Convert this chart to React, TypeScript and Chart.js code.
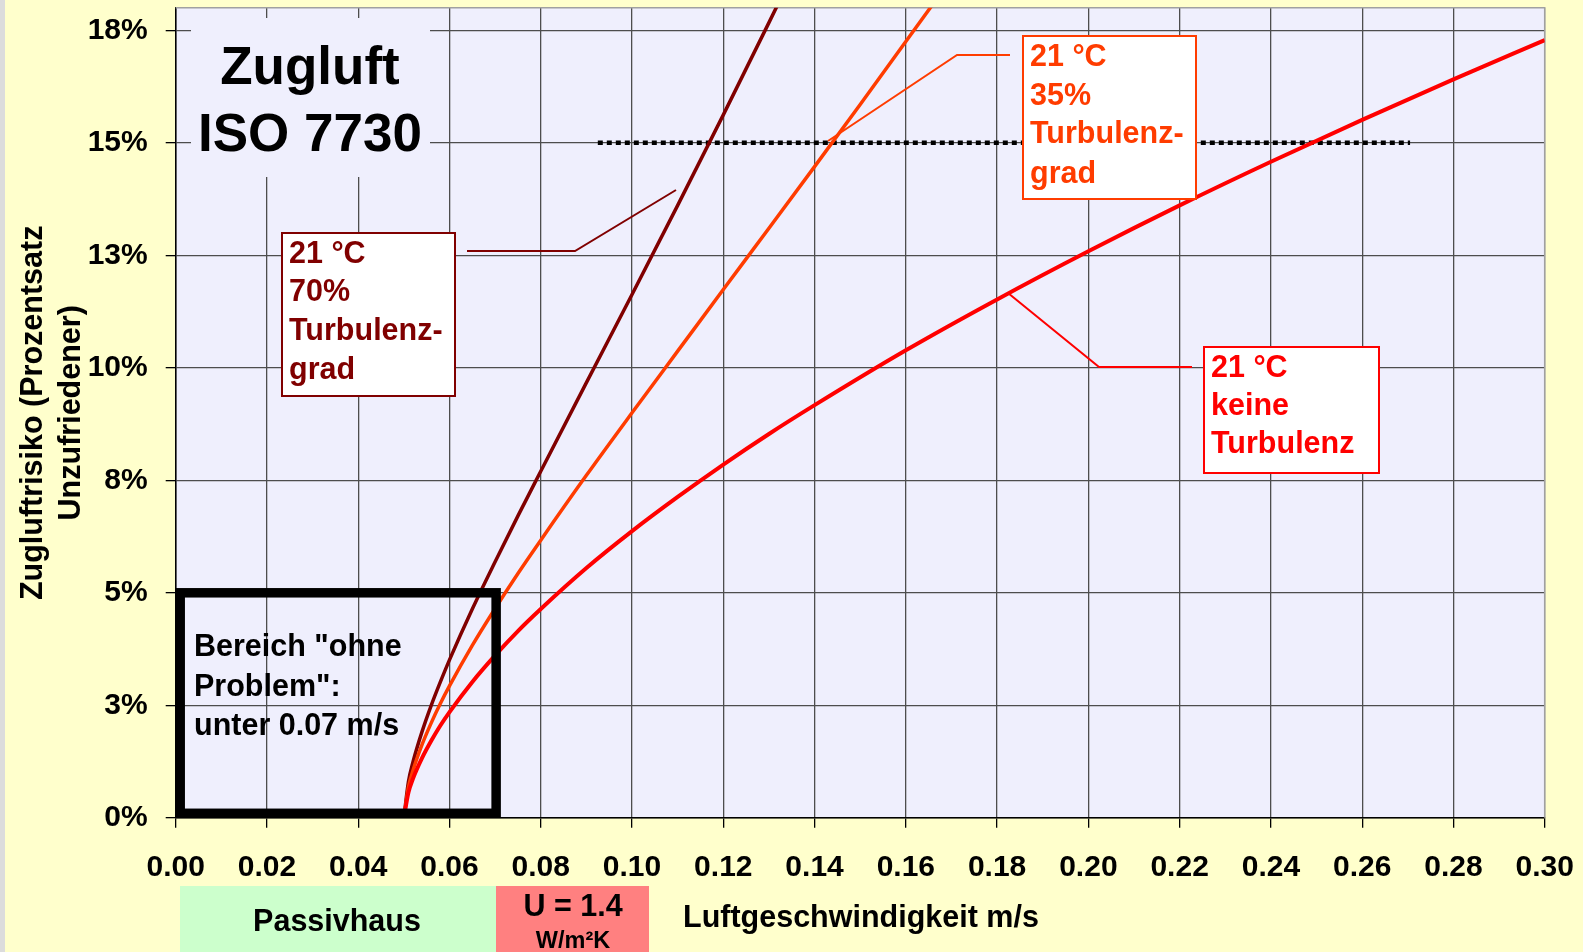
import React, { useEffect, useRef } from 'react';
import { Chart, registerables } from 'chart.js';

Chart.register(...registerables);

// ---- Data ----
const speedNoTurb = [0.05, 0.051, 0.052, 0.054, 0.056, 0.058, 0.06, 0.065, 0.07, 0.075, 0.08, 0.09, 0.10, 0.11, 0.12, 0.13, 0.14, 0.16, 0.18, 0.20, 0.22, 0.24, 0.26, 0.28, 0.30];
const riskNoTurb = [0, 0.56, 0.87, 1.33, 1.71, 2.05, 2.35, 3.02, 3.61, 4.15, 4.64, 5.55, 6.37, 7.13, 7.85, 8.53, 9.17, 10.39, 11.52, 12.59, 13.61, 14.58, 15.51, 16.41, 17.28];

const speedTurb35 = [0.05, 0.051, 0.052, 0.054, 0.056, 0.058, 0.06, 0.065, 0.07, 0.075, 0.08, 0.09, 0.10, 0.11, 0.12, 0.13, 0.14, 0.15, 0.16, 0.17];
const riskTurb35 = [0, 0.68, 1.05, 1.63, 2.11, 2.54, 2.93, 3.83, 4.65, 5.43, 6.17, 7.61, 9.0, 10.37, 11.74, 13.1, 14.47, 15.85, 17.25, 18.65];

const speedTurb70 = [0.05, 0.051, 0.052, 0.054, 0.056, 0.058, 0.06, 0.065, 0.07, 0.075, 0.08, 0.09, 0.10, 0.11, 0.12, 0.13, 0.135];
const riskTurb70 = [0, 0.8, 1.24, 1.92, 2.5, 3.02, 3.51, 4.64, 5.69, 6.71, 7.7, 9.67, 11.63, 13.61, 15.62, 17.67, 18.71];

const limitSpeed = [0.0925, 0.2705];
const limitRisk = [15, 15];

const xTickValues = [0, 0.02, 0.04, 0.06, 0.08, 0.1, 0.12, 0.14, 0.16, 0.18, 0.2, 0.22, 0.24, 0.26, 0.28, 0.3];
const xTickLabels = ['0.00', '0.02', '0.04', '0.06', '0.08', '0.10', '0.12', '0.14', '0.16', '0.18', '0.20', '0.22', '0.24', '0.26', '0.28', '0.30'];
const yTickValues = [0, 2.5, 5, 7.5, 10, 12.5, 15, 17.5];
const yTickLabels = ['0%', '3%', '5%', '8%', '10%', '13%', '15%', '18%'];

const safeZoneSpeed = 0.07;
const safeZoneRisk = 5;

const yTitle = ['Zugluftrisiko (Prozentsatz', 'Unzufriedener)'];
const xTitle = 'Luftgeschwindigkeit m/s';
const chartTitle = ['Zugluft', 'ISO 7730'];

const FONT = '"Liberation Sans", Arial, sans-serif';
const DARKRED = '#800000';
const ORANGE = '#FF3C00';
const RED = '#FF0000';
const TXT = 30.5;

const toPts = (xs: number[], ys: number[]) => xs.map((x, i) => ({ x, y: ys[i] }));

type Callout = { color: string; box: [number, number, number, number]; lines: string[]; textX: number; textY: number[]; leader: [number, number][] };

const callouts: Callout[] = [
  { color: DARKRED, box: [282, 233, 173, 163], lines: ['21 °C', '70%', 'Turbulenz-', 'grad'], textX: 289, textY: [254.5, 293, 332, 370.5], leader: [[467, 251], [575, 251], [676, 190]] },
  { color: ORANGE, box: [1023, 36, 173, 163], lines: ['21 °C', '35%', 'Turbulenz-', 'grad'], textX: 1030, textY: [57.5, 97, 135, 174.5], leader: [[1010, 55], [957, 55], [828, 141]] },
  { color: RED, box: [1204, 347, 175, 126], lines: ['21 °C', 'keine', 'Turbulenz'], textX: 1211, textY: [368.5, 407, 445], leader: [[1192, 367], [1099, 367], [1008, 293]] },
];

const decorPlugin = {
  id: 'decor',
  beforeDraw(chart: any) {
    const { ctx, chartArea: a, width, height } = chart;
    ctx.save();
    ctx.fillStyle = '#FFFFCC';
    ctx.fillRect(0, 0, width, height);
    ctx.fillStyle = '#DCDCDC';
    ctx.fillRect(0, 0, 5, height);
    ctx.fillStyle = '#EFEFFD';
    ctx.fillRect(a.left, a.top, a.right - a.left, a.bottom - a.top);
    ctx.restore();
  },
  beforeDatasetsDraw(chart: any) {
    const { ctx, chartArea: a } = chart;
    ctx.save();
    ctx.strokeStyle = '#A0A0A0';
    ctx.lineWidth = 1.5;
    ctx.beginPath();
    ctx.moveTo(a.left, a.top);
    ctx.lineTo(a.right, a.top);
    ctx.lineTo(a.right, a.bottom);
    ctx.stroke();
    ctx.fillStyle = '#EFEFFD';
    ctx.fillRect(191, 18, 239, 159);
    ctx.fillStyle = '#000';
    ctx.font = `bold 53px ${FONT}`;
    ctx.textAlign = 'center';
    ctx.textBaseline = 'alphabetic';
    ctx.fillText(chartTitle[0], 310, 84);
    ctx.fillText(chartTitle[1], 310, 151);
    ctx.restore();
  },
  afterDatasetsDraw(chart: any) {
    const { ctx, scales } = chart;
    const X = (v: number) => scales.x.getPixelForValue(v);
    const Y = (v: number) => scales.y.getPixelForValue(v);
    ctx.save();
    ctx.strokeStyle = '#000';
    ctx.lineWidth = 9.5;
    const l = X(0) + 4.5, r = X(safeZoneSpeed) + 1, t = Y(safeZoneRisk), b = Y(0) - 4.5;
    ctx.strokeRect(l, t, r - l, b - t);
    ctx.fillStyle = '#000';
    ctx.font = `bold ${TXT}px ${FONT}`;
    ctx.textAlign = 'left';
    ctx.textBaseline = 'middle';
    ctx.fillText('Bereich "ohne', 194, 648);
    ctx.fillText('Problem":', 194, 687.5);
    ctx.fillText('unter 0.07 m/s', 194, 727);

    for (const c of callouts) {
      ctx.strokeStyle = c.color;
      ctx.lineWidth = 2;
      ctx.beginPath();
      c.leader.forEach(([px, py], i) => (i === 0 ? ctx.moveTo(px, py) : ctx.lineTo(px, py)));
      ctx.stroke();
      ctx.fillStyle = '#FFFFFF';
      ctx.fillRect(c.box[0], c.box[1], c.box[2], c.box[3]);
      ctx.lineWidth = 2;
      ctx.strokeRect(c.box[0], c.box[1], c.box[2], c.box[3]);
      ctx.fillStyle = c.color;
      ctx.font = `bold ${TXT}px ${FONT}`;
      ctx.textAlign = 'left';
      ctx.textBaseline = 'middle';
      c.lines.forEach((s, i) => ctx.fillText(s, c.textX, c.textY[i]));
    }
    ctx.restore();
  },
  afterDraw(chart: any) {
    const { ctx } = chart;
    ctx.save();
    ctx.fillStyle = '#CCFFCC';
    ctx.fillRect(180, 886, 316, 66);
    ctx.fillStyle = '#FF8080';
    ctx.fillRect(496, 886, 153, 66);
    ctx.fillStyle = '#000';
    ctx.textBaseline = 'middle';
    ctx.textAlign = 'center';
    ctx.font = `bold ${TXT}px ${FONT}`;
    ctx.fillText('Passivhaus', 337, 923);
    ctx.fillText('U = 1.4', 573, 908);
    ctx.font = `bold 23.5px ${FONT}`;
    ctx.fillText('W/m²K', 573, 942);
    ctx.textAlign = 'left';
    ctx.font = `bold ${TXT}px ${FONT}`;
    ctx.fillText(xTitle, 683, 919);
    ctx.restore();
  },
};

export default function App() {
  const ref = useRef<HTMLCanvasElement>(null);
  useEffect(() => {
    document.body.style.margin = '0';
    const tickFont = { family: FONT, size: 30, weight: 'bold' as const };
    const chart = new Chart(ref.current as HTMLCanvasElement, {
      type: 'line',
      data: {
        datasets: [
          { label: '21 °C keine Turbulenz', data: toPts(speedNoTurb, riskNoTurb), borderColor: RED, borderWidth: 4, pointRadius: 0, cubicInterpolationMode: 'monotone', fill: false },
          { label: '21 °C 35% Turbulenzgrad', data: toPts(speedTurb35, riskTurb35), borderColor: ORANGE, borderWidth: 3.5, pointRadius: 0, cubicInterpolationMode: 'monotone', fill: false },
          { label: '21 °C 70% Turbulenzgrad', data: toPts(speedTurb70, riskTurb70), borderColor: DARKRED, borderWidth: 3.5, pointRadius: 0, cubicInterpolationMode: 'monotone', fill: false },
          { label: '15 %', data: toPts(limitSpeed, limitRisk), borderColor: '#000', borderWidth: 4.5, borderDash: [5, 4], pointRadius: 0, fill: false },
        ],
      },
      options: {
        animation: false,
        responsive: false,
        devicePixelRatio: 1,
        layout: { padding: { left: 0, top: 7.8, right: 38.3, bottom: 0 } },
        plugins: { legend: { display: false }, tooltip: { enabled: false } },
        scales: {
          x: {
            type: 'linear',
            min: 0,
            max: 0.3,
            afterBuildTicks: (s: any) => { s.ticks = xTickValues.map((v) => ({ value: v })); },
            afterFit: (s: any) => { s.height = 134.2; s.paddingLeft = 0; s.paddingRight = 0; s.paddingTop = 0; s.paddingBottom = 0; },
            grid: { color: (c: any) => (c.tick && c.tick.value === 0.3 ? '#9A9A9A' : '#4D4D4D'), lineWidth: 1.3, tickLength: 10, tickColor: '#000', tickWidth: 1.3 },
            border: { color: '#000', width: 1.5 },
            ticks: { callback: (_v: any, i: number) => xTickLabels[i], font: tickFont, color: '#000', padding: 22, maxRotation: 0, autoSkip: false },
          },
          y: {
            type: 'linear',
            min: 0,
            max: 18,
            afterBuildTicks: (s: any) => { s.ticks = yTickValues.map((v) => ({ value: v })); },
            afterFit: (s: any) => { s.width = 175.7; s.paddingTop = 0; s.paddingBottom = 0; s.paddingLeft = 0; s.paddingRight = 0; },
            grid: { color: '#4D4D4D', lineWidth: 1.3, tickLength: 10, tickColor: '#000', tickWidth: 1.3 },
            border: { color: '#000', width: 1.5 },
            ticks: { callback: (_v: any, i: number) => yTickLabels[i], font: tickFont, color: '#000', padding: 18, autoSkip: false },
            title: { display: true, text: yTitle, color: '#000', font: { family: FONT, size: TXT, weight: 'bold', lineHeight: 38 / TXT }, padding: { top: 15, bottom: 0 } },
          },
        },
      } as any,
      plugins: [decorPlugin],
    });
    return () => chart.destroy();
  }, []);
  return (
    <div style={{ width: 1583, height: 952 }}>
      <canvas ref={ref} width={1583} height={952} style={{ display: 'block', width: 1583, height: 952 }} />
    </div>
  );
}
